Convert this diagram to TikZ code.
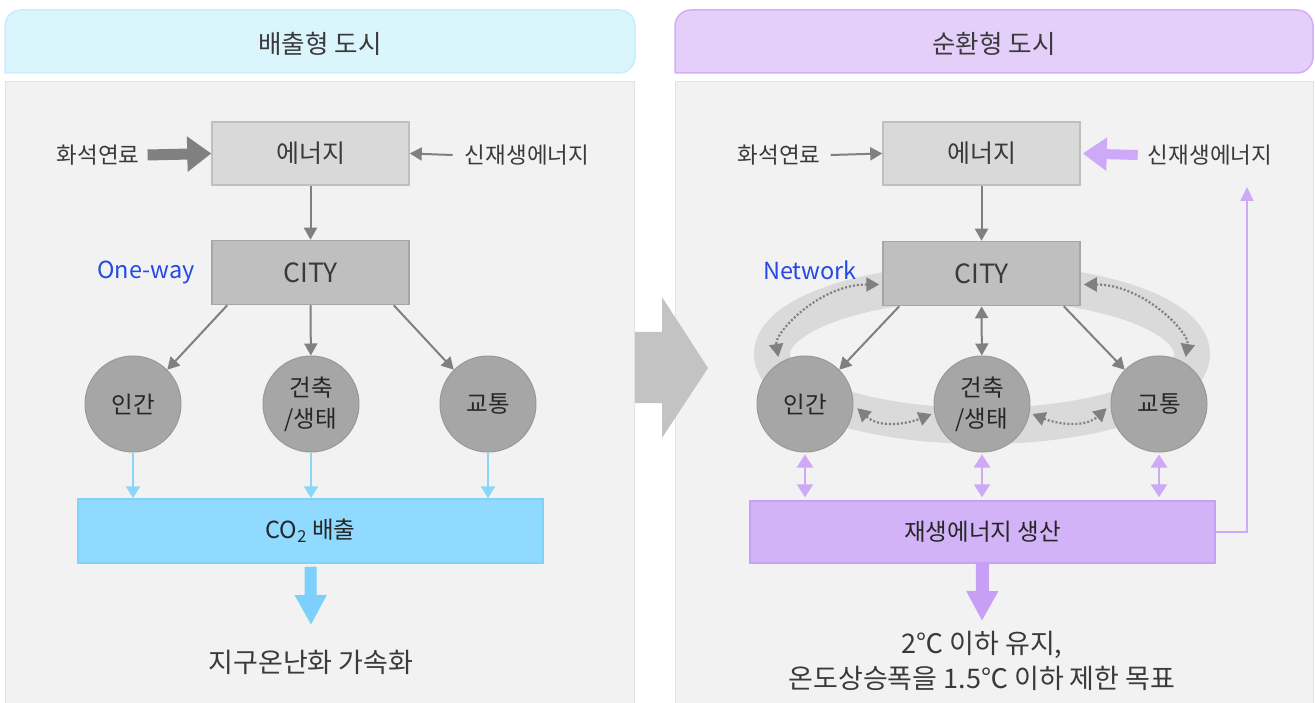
\documentclass[tikz,border=0pt]{standalone}
\usepackage{fontspec}
\setmainfont{Noto Sans CJK KR}
\usetikzlibrary{arrows.meta}
\definecolor{txt}{HTML}{3A3A3A}
\definecolor{headLfill}{HTML}{DBF5FD}
\definecolor{headLdraw}{HTML}{C8EEFC}
\definecolor{headRfill}{HTML}{E3CFFA}
\definecolor{headRdraw}{HTML}{D3AEF7}
\definecolor{panelfill}{HTML}{F2F2F2}
\definecolor{paneldraw}{HTML}{E3E3E3}
\definecolor{bigarr}{HTML}{C3C3C3}
\definecolor{efill}{HTML}{D9D9D9}
\definecolor{edraw}{HTML}{BFBFBF}
\definecolor{cfill}{HTML}{BFBFBF}
\definecolor{cdraw}{HTML}{A6A6A6}
\definecolor{circfill}{HTML}{A6A6A6}
\definecolor{circdraw}{HTML}{999999}
\definecolor{garr}{HTML}{808080}
\definecolor{bluetxt}{HTML}{2449E6}
\definecolor{lblue}{HTML}{8AD6FB}
\definecolor{co2fill}{HTML}{8FDAFE}
\definecolor{co2draw}{HTML}{7FD2FC}
\definecolor{bigblue}{HTML}{7DD0FC}
\definecolor{pfill}{HTML}{D2B3F8}
\definecolor{pdraw}{HTML}{C8A0F5}
\definecolor{parr}{HTML}{CDA9F8}
\definecolor{bigpurp}{HTML}{C7A0F6}
\definecolor{ringc}{HTML}{DADADA}
\begin{document}
\begin{tikzpicture}[x=1pt,y=-1pt,
  lbl/.style={text=txt, inner sep=0pt, font=\fontsize{22.5}{26}\selectfont},
  bluelbl/.style={text=bluetxt, inner sep=0pt, font=\fontsize{23.5}{27}\selectfont},
  hdr/.style={text=txt, inner sep=0pt, font=\fontsize{25.5}{29}\selectfont},
  boxE/.style={draw=edraw, fill=efill, line width=1.5pt, minimum width=197pt, minimum height=63pt, text=txt, font=\fontsize{25}{29}\selectfont},
  boxC/.style={draw=cdraw, fill=cfill, line width=1.5pt, minimum width=197pt, minimum height=64pt, text=txt, font=\fontsize{26.5}{30}\selectfont},
  circ/.style={circle, fill=circfill, draw=circdraw, line width=1pt, minimum size=96pt, inner sep=0pt, align=center, text=black!85, font=\fontsize{23.5}{31}\selectfont},
  co2box/.style={draw=co2draw, fill=co2fill, line width=1.5pt, minimum width=465pt, minimum height=64pt, text=black!85, font=\fontsize{23.5}{27}\selectfont},
  genbox/.style={draw=pdraw, fill=pfill, line width=1.5pt, minimum width=465pt, minimum height=62pt, text=black!85, font=\fontsize{23.5}{27}\selectfont},
  bottomtxt/.style={text=txt, inner sep=0pt, align=center, font=\fontsize{27}{35}\selectfont},
  garrow/.style={draw=garr, line width=2pt, -{Triangle[length=12pt,width=13pt]}},
  garrowtwo/.style={draw=garr, line width=2pt, {Triangle[length=12pt,width=13pt]}-{Triangle[length=12pt,width=13pt]}},
  thickgray/.style={draw=garr, line width=11pt, -{Triangle[length=24pt,width=34pt]}},
  dotarrow/.style={draw=garr, line width=2.2pt, dash pattern=on 2pt off 2pt, {Triangle[length=13pt,width=14pt]}-{Triangle[length=13pt,width=14pt]}},
  lbarrow/.style={draw=lblue, line width=2pt, -{Triangle[length=12pt,width=14pt]}},
  bigbluearrow/.style={draw=bigblue, line width=12pt, -{Triangle[length=30pt,width=30pt]}},
  parrowtwo/.style={draw=parr, line width=2.5pt, {Triangle[length=13pt,width=16pt]}-{Triangle[length=13pt,width=16pt]}},
  thickpurple/.style={draw=parr, line width=10pt, -{Triangle[length=24pt,width=32pt]}},
  pline/.style={draw=parr, line width=2pt, -{Triangle[length=14pt,width=13pt]}},
  bigpurparrow/.style={draw=bigpurp, line width=13pt, -{Triangle[length=30pt,width=30pt]}}
]
\useasboundingbox (0,0) rectangle (1315,703);
% panels
\draw[fill=headLfill, draw=headLdraw, line width=1.5pt, rounded corners=16pt] (5,73) -- (5,10) -- (635,10) -- (635,73) [sharp corners] -- cycle;
\draw[fill=headRfill, draw=headRdraw, line width=1.5pt, rounded corners=16pt] (675,73) -- (675,10) -- (1313,10) -- (1313,73) [sharp corners] -- cycle;
\draw[fill=panelfill, draw=paneldraw, line width=1pt] (5,703) -- (5,82) -- (634,82) -- (634,703);
\draw[fill=panelfill, draw=paneldraw, line width=1pt] (675,703) -- (675,82) -- (1313,82) -- (1313,703);
\node[hdr] (hdrL) at (320,44) {배출형 도시};
\node[hdr] (hdrR) at (994,44) {순환형 도시};
% middle arrow
\fill[bigarr] (635,332) -- (662,332) -- (662,297) -- (708,368) -- (662,438) -- (662,403) -- (635,403) -- cycle;

% ===== left =====
\node[lbl] (fossilL) at (98,155) {화석연료};
\node[boxE] (enL) at (310.5,153.5) {에너지};
\node[lbl] (renL) at (527,155) {신재생에너지};
\node[boxC] (cityL) at (310.5,272.5) {CITY};
\node[bluelbl] (oneway) at (146,272) {One-way};
\node[circ] (hL) at (133,404) {인간};
\node[circ] (bL) at (311,404) {건축\\/생태};
\node[circ] (tL) at (488,404) {교통};
\node[co2box] (co2) at (310.5,531) {CO\textsubscript{2} 배출};
\node[bottomtxt] (warm) at (311,662) {지구온난화 가속화};
\coordinate (wtip) at (311,625);

\draw[thickgray] ([xshift=8pt]fossilL.east) -- (enL.west);
\draw[garrow] ([xshift=-12pt]renL.west) -- (enL.east);
\draw[garrow] (enL) -- (cityL);
\draw[garrow] ([xshift=16pt]cityL.south west) -- (hL.45);
\draw[garrow] (cityL) -- (bL);
\draw[garrow] ([xshift=-16pt]cityL.south east) -- (tL.135);
\draw[lbarrow] (hL.south) -- (hL.south |- co2.north);
\draw[lbarrow] (bL.south) -- (bL.south |- co2.north);
\draw[lbarrow] (tL.south) -- (tL.south |- co2.north);
\draw[bigbluearrow] ([yshift=-3pt]co2.south) -- (wtip);

% ===== right =====
\draw[ringc, line width=36pt] (982,354) ellipse [x radius=210, y radius=72];
\node[lbl] (fossilR) at (779,155) {화석연료};
\node[boxE] (enR) at (981.5,153.5) {에너지};
\node[lbl] (renR) at (1210,155) {신재생에너지};
\node[boxC] (cityR) at (981.5,273.5) {CITY};
\node[bluelbl] (net) at (810,270) {Network};
\node[circ] (hR) at (805,404) {인간};
\node[circ] (bR) at (982,404) {건축\\/생태};
\node[circ] (tR) at (1159,404) {교통};
\node[genbox] (gen) at (982.5,532) {재생에너지 생산};
\node[bottomtxt] (goal) at (982,661) {2℃ 이하 유지,\\온도상승폭을 1.5℃ 이하 제한 목표};
\coordinate (gtip) at (982,621);
\coordinate (fb) at (1247,187);

\draw[garrow] ([xshift=10pt]fossilR.east) -- (enR.west);
\draw[thickpurple] ([xshift=-10pt]renR.west) -- ([xshift=2pt]enR.east);
\draw[garrow] (enR) -- (cityR);
\draw[garrow] ([xshift=17pt]cityR.south west) -- (hR.45);
\draw[garrowtwo] (cityR) -- (bR);
\draw[garrow] ([xshift=-17pt]cityR.south east) -- (tR.135);
\draw[dotarrow, shorten >=6pt] ([yshift=-11pt,xshift=-3pt]cityR.west) .. controls +(-60,0) and +(-5,-30) .. (hR.122);
\draw[dotarrow, shorten >=6pt] ([yshift=-11pt,xshift=3pt]cityR.east) .. controls +(60,0) and +(5,-30) .. (tR.58);
\draw[dotarrow] ([xshift=4pt]hR.-5) .. controls +(22,20) and +(-25,10) .. ([xshift=-3pt]bR.192);
\draw[dotarrow] ([xshift=3pt]bR.-12) .. controls +(25,10) and +(-22,20) .. ([xshift=-4pt]tR.185);
\draw[parrowtwo] ([yshift=-2pt]hR.south) -- ([yshift=3pt]hR.south |- gen.north);
\draw[parrowtwo] ([yshift=-2pt]bR.south) -- ([yshift=3pt]bR.south |- gen.north);
\draw[parrowtwo] ([yshift=-2pt]tR.south) -- ([yshift=3pt]tR.south |- gen.north);
\draw[pline] (gen.east) -| (fb);
\draw[bigpurparrow] (gen.south) -- (gtip);
\end{tikzpicture}
\end{document}
